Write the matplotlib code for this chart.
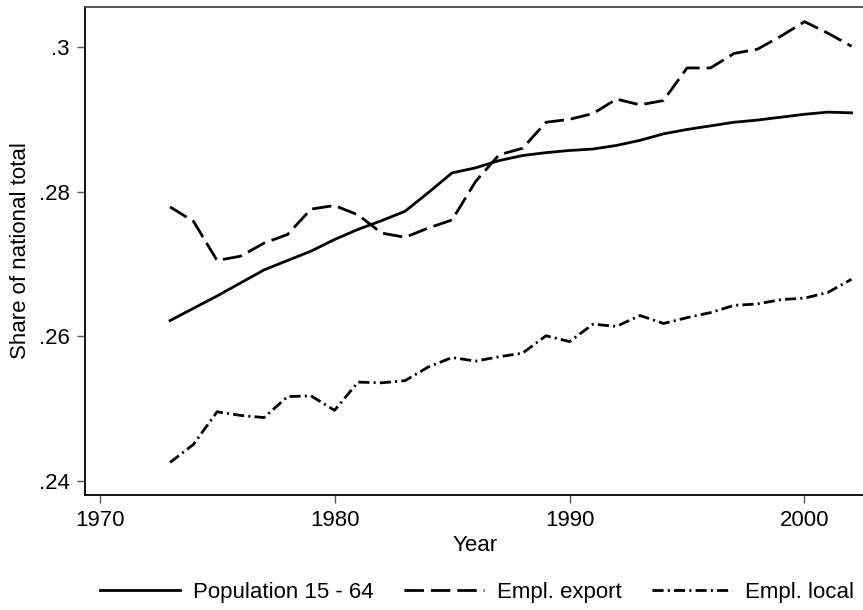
import numpy as np
import matplotlib
matplotlib.use("Agg")
import matplotlib.pyplot as plt

plt.rcParams['font.family'] = ['Liberation Sans', 'DejaVu Sans']
plt.rcParams['lines.scale_dashes'] = False

# %% data
years = np.arange(1973, 2003)

pop_15_64 = [0.2622, 0.2639, 0.2656, 0.2674, 0.2692, 0.2705, 0.2718, 0.2734,
             0.2748, 0.2760, 0.2773, 0.2799, 0.2826, 0.2833, 0.2843, 0.2850,
             0.2854, 0.2857, 0.2859, 0.2864, 0.2871, 0.2880, 0.2886, 0.2891,
             0.2896, 0.2899, 0.2903, 0.2907, 0.2910, 0.2909]

empl_export = [0.2779, 0.2759, 0.2705, 0.2711, 0.2729, 0.2741, 0.2776, 0.2781,
               0.2768, 0.2743, 0.2737, 0.2750, 0.2761, 0.2814, 0.2851, 0.2860,
               0.2896, 0.2900, 0.2908, 0.2928, 0.2920, 0.2926, 0.2971, 0.2971,
               0.2991, 0.2997, 0.3015, 0.3035, 0.3019, 0.3001]

empl_local = [0.2426, 0.2451, 0.2496, 0.2491, 0.2488, 0.2517, 0.2518, 0.2498,
              0.2537, 0.2536, 0.2539, 0.2558, 0.2571, 0.2566, 0.2572, 0.2577,
              0.2601, 0.2593, 0.2617, 0.2614, 0.2629, 0.2618, 0.2626, 0.2633,
              0.2643, 0.2645, 0.2651, 0.2653, 0.2661, 0.2679]

x_ticks = [1970, 1980, 1990, 2000]
y_ticks = [0.24, 0.26, 0.28, 0.30]
y_ticklabels = ['.24', '.26', '.28', '.3']

# %% plot
fig = plt.figure(figsize=(8.63, 6.10), dpi=100)
# right edge of the plot region runs off the canvas, as in the reference
ax = fig.add_axes([0.0985, 0.1885, 0.9045, 0.80])

ax.plot(years, pop_15_64, color='black', lw=2, ls='-',
        label='Population 15 - 64')
ax.plot(years, empl_export, color='black', lw=2, ls=(0, (14, 5)),
        label='Empl. export')
ax.plot(years, empl_local, color='black', lw=2, ls=(0, (8, 3, 1.5, 3)),
        label='Empl. local')

# cosmetics
ax.set_xlim(1969.38, 2002.6)
ax.set_ylim(0.2381, 0.30552)
ax.set_xticks(x_ticks)
ax.set_yticks(y_ticks)
ax.set_yticklabels(y_ticklabels)
ax.tick_params(direction='out', length=6, width=1, color='#555555',
               labelsize=16, pad=5)
for s in ax.spines.values():
    s.set_color('black')
    s.set_linewidth(1.3)
ax.spines['top'].set_color('#444444')
ax.spines['right'].set_visible(False)

ax.set_xlabel('Year', fontsize=16, labelpad=3)
ax.set_ylabel('Share of national total', fontsize=16, labelpad=6)

lgd = fig.legend(loc='upper left', bbox_to_anchor=(100 / 863, 1 - 582 / 610),
                 ncol=3, frameon=False, fontsize=16, handlelength=3.6,
                 columnspacing=1.35, handletextpad=0.6, borderpad=0,
                 borderaxespad=0)

fig.savefig('out.png', dpi=100)
